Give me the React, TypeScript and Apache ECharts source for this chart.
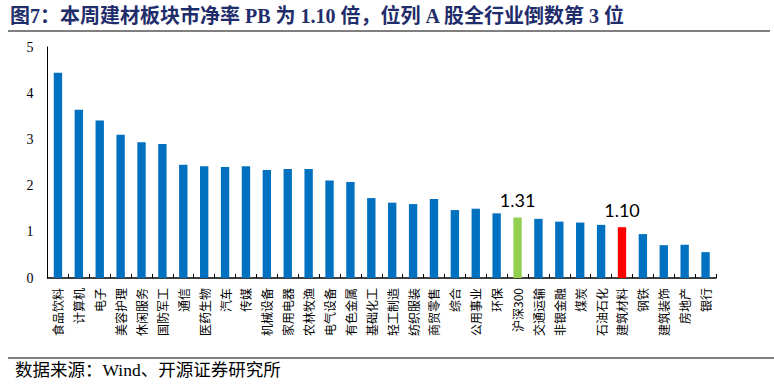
import React, { useEffect, useRef } from 'react';
import * as echarts from 'echarts';

const categories = [
  '食品饮料', '计算机', '电子', '美容护理', '休闲服务', '国防军工', '通信', '医药生物',
  '汽车', '传媒', '机械设备', '家用电器', '农林牧渔', '电气设备', '有色金属', '基础化工',
  '轻工制造', '纺织服装', '商贸零售', '综合', '公用事业', '环保', '沪深300', '交通运输',
  '非银金融', '煤炭', '石油石化', '建筑材料', '钢铁', '建筑装饰', '房地产', '银行',
];

const values = [
  4.44, 3.64, 3.41, 3.10, 2.94, 2.90, 2.45, 2.42,
  2.40, 2.42, 2.34, 2.36, 2.36, 2.11, 2.08, 1.73,
  1.63, 1.60, 1.71, 1.47, 1.50, 1.40, 1.31, 1.28,
  1.22, 1.20, 1.15, 1.10, 0.95, 0.71, 0.72, 0.56,
];

const yMin = 0;
const yMax = 5;
const yInterval = 1;

const titleText = '图7：本周建材板块市净率 PB 为 1.10 倍，位列 A 股全行业倒数第 3 位';
const sourceText = '数据来源：Wind、开源证券研究所';
const greenCategory = '沪深300';
const redCategory = '建筑材料';

const BLUE = '#0070C0';
const GREEN = '#92D050';
const RED = '#FF0000';

export default function App() {
  const ref = useRef<HTMLDivElement>(null);

  useEffect(() => {
    if (!ref.current) return;
    const chart = echarts.init(ref.current, undefined, { renderer: 'svg' });

    const data = values.map((v, i) => {
      const c = categories[i];
      const hl = c === greenCategory || c === redCategory;
      return {
        value: v,
        itemStyle: { color: c === greenCategory ? GREEN : c === redCategory ? RED : BLUE },
        label: { show: hl },
      };
    });

    chart.setOption({
      animation: false,
      backgroundColor: '#fff',
      grid: { left: 47.5, right: 58, top: 47, bottom: 106, containLabel: false },
      xAxis: {
        type: 'category',
        data: categories,
        axisLine: { show: true, lineStyle: { color: '#000', width: 1.5 } },
        axisTick: { show: true, inside: true, length: 4, lineStyle: { color: '#000', width: 1 } },
        axisLabel: {
          interval: 0,
          rotate: 90,
          margin: 10,
          fontSize: 12,
          color: '#000',
          fontFamily: '"Noto Sans CJK SC", "Liberation Serif", serif',
        },
        splitLine: { show: false },
      },
      yAxis: {
        type: 'value',
        min: yMin,
        max: yMax,
        interval: yInterval,
        axisLine: { show: true, lineStyle: { color: '#000', width: 1 } },
        axisTick: { show: false },
        splitLine: { show: false },
        axisLabel: {
          margin: 14,
          fontSize: 14,
          color: '#000',
          fontFamily: '"Liberation Serif", "Times New Roman", serif',
        },
      },
      series: [
        {
          type: 'bar',
          data,
          barWidth: '40%',
          label: {
            show: false,
            position: 'top',
            distance: 8,
            fontSize: 18,
            color: '#000',
            fontFamily: 'Lato, "Open Sans", sans-serif',
            formatter: (p: any) => Number(p.value).toFixed(2),
          },
        },
      ],
      graphic: [
        {
          type: 'text',
          left: 10,
          top: 6,
          style: {
            text: titleText,
            fontSize: 20,
            fontWeight: 'bold',
            fill: '#1F2D6B',
            fontFamily: '"Liberation Serif", "Noto Sans CJK SC", serif',
          },
        },
        {
          type: 'line',
          shape: { x1: 8, y1: 31, x2: 770, y2: 31 },
          style: { stroke: '#000', lineWidth: 1.2 },
        },
        {
          type: 'line',
          shape: { x1: 8, y1: 358, x2: 774, y2: 358 },
          style: { stroke: '#000', lineWidth: 1.2 },
        },
        {
          type: 'text',
          left: 15,
          top: 361,
          style: {
            text: sourceText,
            fontSize: 17.5,
            fill: '#000',
            fontFamily: '"Liberation Serif", "Noto Sans CJK SC", serif',
          },
        },
      ],
    });

    return () => {
      chart.dispose();
    };
  }, []);

  return (
    <div
      ref={ref}
      style={{ position: 'fixed', left: 0, top: 0, width: 774, height: 384, background: '#fff' }}
    />
  );
}
